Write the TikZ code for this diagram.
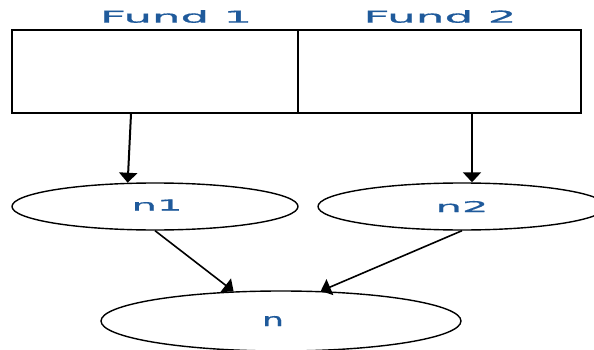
\documentclass[tikz,border=0pt]{standalone}
\usepackage{fontspec}
\usepackage{graphicx}
\usetikzlibrary{arrows.meta,shapes.geometric,calc}
\newfontfamily\lblfont[FakeBold=0.6]{DejaVu Sans}
\definecolor{txtblue}{RGB}{31,90,155}
\newcommand{\lbl}[3]{\resizebox{#1pt}{#2pt}{\lblfont #3}}
\begin{document}
\begin{tikzpicture}[x=1pt,y=-1pt,
  fundbox/.style={draw,line width=2.2pt,rectangle,minimum height=83pt,inner sep=0pt},
  oval/.style={draw,line width=1.4pt,ellipse,inner sep=0pt,text=txtblue},
  txt/.style={text=txtblue,inner sep=0pt},
  arr/.style={-{Triangle[width=18pt,length=10pt]},line width=2pt},
  arrthin/.style={-{Triangle[width=17pt,length=10pt]},line width=1.6pt}]
\useasboundingbox (0,0) rectangle (594,350);
\node[fundbox,minimum width=286pt] (box1) at (155,71.5) {};
\node[fundbox,minimum width=283pt] (box2) at (439.5,71.5) {};
\node[txt] (f1) at (176,16.5) {\lbl{152}{12.5}{Fund 1}};
\node[txt] (f2) at (440,16.5) {\lbl{153}{12.5}{Fund 2}};
\node[oval,minimum width=286pt,minimum height=47pt] (n1) at (155,206.5) {\kern4pt\raisebox{3pt}{\lbl{51}{11}{n1}}};
\node[oval,minimum width=288pt,minimum height=47pt] (n2) at (462,206.5) {\raisebox{-4pt}{\lbl{53}{11}{n2}}};
\node[oval,minimum width=360pt,minimum height=60pt] (n) at (281,321) {\lbl{22}{10}{n}\kern16pt};
\draw[arr] ([xshift=-24pt]box1.south) -- (n1.139.5);
\draw[arr] ([xshift=32.5pt]box2.south) -- ([xshift=32.5pt]box2.south |- n2.north);
\draw[arrthin] (n1.south) -- (n.148.4);
\draw[arrthin] (n2.south) -- (n.37.6);
\end{tikzpicture}
\end{document}
